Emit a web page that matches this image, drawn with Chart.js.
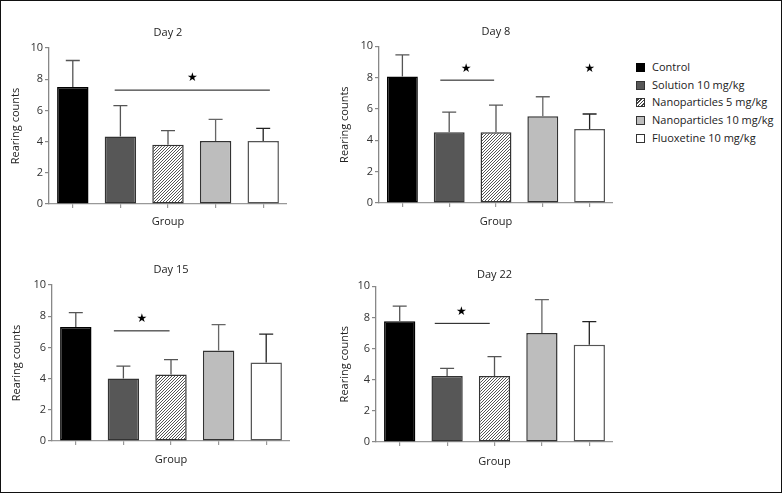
<!DOCTYPE html>
<html>
<head>
<meta charset="utf-8">
<script src="https://cdn.jsdelivr.net/npm/chart.js@4.4.1/dist/chart.umd.min.js"></script>
<style>
  body { margin: 0; background: #fff; }
  #page { position: relative; width: 783px; height: 494px; overflow: hidden; font-family: "Open Sans", sans-serif; }
  #frame { position: absolute; left: 0; top: 0; width: 780px; height: 491px; border: 1.5px solid #111; pointer-events: none; }
  .panel { position: absolute; }
  .legend { position: absolute; left: 636px; top: 61px; font-size: 11px; color: #222; }
  .legend div { height: 17.7px; line-height: 11px; white-space: nowrap; }
  .legend span.sw { display: inline-block; width: 7px; height: 7px; border: 1px solid #333; margin-right: 7px; vertical-align: -1px; }
</style>
</head>
<body>
<div id="page">
  <div class="panel" id="p0"><canvas id="c0"></canvas></div>
  <div class="panel" id="p1"><canvas id="c1"></canvas></div>
  <div class="panel" id="p2"><canvas id="c2"></canvas></div>
  <div class="panel" id="p3"><canvas id="c3"></canvas></div>
  <div class="legend" id="legend"></div>
  <div id="frame"></div>
</div>
<script>
// data
const groups = ['Control', 'Solution 10 mg/kg', 'Nanoparticles 5 mg/kg', 'Nanoparticles 10 mg/kg', 'Fluoxetine 10 mg/kg'];
const days = ['Day 2', 'Day 8', 'Day 15', 'Day 22'];

const day2Mean = [7.5, 4.33, 3.8, 4.04, 4.04];
const day2Sd = [1.7, 1.97, 0.9, 1.38, 0.81];
const day8Mean = [8.07, 4.51, 4.51, 5.53, 4.73];
const day8Sd = [1.38, 1.29, 1.74, 1.25, 0.95];
const day15Mean = [7.31, 4.0, 4.26, 5.8, 5.03];
const day15Sd = [0.92, 0.8, 0.96, 1.66, 1.82];
const day22Mean = [7.75, 4.24, 4.24, 7.0, 6.25];
const day22Sd = [0.98, 0.49, 1.24, 2.14, 1.48];

// significance bars: [from category, to category, y value]
const day2Sig = [[0.88, 4.14, 7.3]];
const day8Sig = [[0.81, 1.96, 7.84]];
const day15Sig = [[0.8, 1.97, 7.06]];
const day22Sig = [[0.74, 1.9, 7.62]];
// stars: [category, y value]
const day2Stars = [[2.51, 8.1]];
const day8Stars = [[1.36, 8.54], [4.0, 8.54]];
const day15Stars = [[1.39, 7.83]];
const day22Stars = [[1.3, 8.37]];

const yTicks = [0, 2, 4, 6, 8, 10];

const means = [day2Mean, day8Mean, day15Mean, day22Mean];
const sds = [day2Sd, day8Sd, day15Sd, day22Sd];
const sigs = [day2Sig, day8Sig, day15Sig, day22Sig];
const stars = [day2Stars, day8Stars, day15Stars, day22Stars];

// hatch pattern for the 5 mg/kg group (fine "/" stripes)
function hatch() {
  const c = document.createElement('canvas');
  c.width = 3; c.height = 3;
  const g = c.getContext('2d');
  g.fillStyle = '#fff';
  g.fillRect(0, 0, 3, 3);
  g.fillStyle = '#555';
  g.fillRect(0, 2, 1, 1);
  g.fillRect(1, 1, 1, 1);
  g.fillRect(2, 0, 1, 1);
  return g.createPattern(c, 'repeat');
}
const hatchFill = hatch();

const fills = ['#000', '#575757', hatchFill, '#bdbdbd', '#fff'];
const borders = ['#000', '#333', '#333', '#333', '#555'];
const errColors = ['#555', '#555', '#555', '#666', '#222'];

// panel geometry (page pixels)
const panels = [
  { axisX: 49, top: 48, bottom: 204, right: 287, titleY: 33, groupY: 222, yTitleX: 16, T: 0 },
  { axisX: 379, top: 46.3, bottom: 203.7, right: 613, titleY: 31.7, groupY: 222.7, yTitleX: 345, T: 0 },
  { axisX: 52, top: 285, bottom: 441.3, right: 290, titleY: 270, groupY: 460, yTitleX: 16.7, T: 240 },
  { axisX: 376, top: 286.3, bottom: 442, right: 613, titleY: 275, groupY: 461.7, yTitleX: 345, T: 240 }
];

const extras = {
  id: 'extras',
  afterDatasetsDraw(chart, args, opts) {
    const ctx = chart.ctx;
    const xs = chart.scales.x, ys = chart.scales.y;
    const step = xs.getPixelForValue(1) - xs.getPixelForValue(0);
    const catX = c => xs.getPixelForValue(0) + c * step;
    const meta = chart.getDatasetMeta(0);
    ctx.save();
    ctx.lineWidth = 1.3;
    meta.data.forEach((bar, i) => {
      const m = opts.mean[i], s = opts.sd[i];
      const y0 = ys.getPixelForValue(m), y1 = ys.getPixelForValue(m + s);
      ctx.strokeStyle = errColors[i];
      ctx.beginPath();
      ctx.moveTo(bar.x, y0); ctx.lineTo(bar.x, y1);
      ctx.moveTo(bar.x - 7, y1); ctx.lineTo(bar.x + 7, y1);
      ctx.stroke();
    });
    ctx.strokeStyle = '#111';
    ctx.lineWidth = 1;
    opts.sig.forEach(s => {
      const y = ys.getPixelForValue(s[2]);
      ctx.beginPath();
      ctx.moveTo(catX(s[0]), y); ctx.lineTo(catX(s[1]), y);
      ctx.stroke();
    });
    ctx.fillStyle = '#000';
    ctx.font = '12px "DejaVu Sans"';
    ctx.textAlign = 'center';
    ctx.textBaseline = 'middle';
    opts.stars.forEach(s => {
      ctx.fillText('\u2605', catX(s[0]), ys.getPixelForValue(s[1]));
    });
    ctx.restore();
  }
};

panels.forEach((p, k) => {
  const L = p.axisX - 50;
  const W = p.right - L;
  const H = p.bottom - p.T + 30;
  const box = document.getElementById('p' + k);
  box.style.left = L + 'px';
  box.style.top = p.T + 'px';
  box.style.width = W + 'px';
  box.style.height = H + 'px';
  const cv = document.getElementById('c' + k);
  cv.width = W; cv.height = H;
  const topSpace = p.top - p.T;
  const tPadTop = p.titleY - p.T - 6.6;
  const tPadBottom = topSpace - 13.2 - tPadTop;

  new Chart(cv, {
    type: 'bar',
    data: {
      labels: groups,
      datasets: [{
        data: means[k],
        backgroundColor: fills,
        borderColor: borders,
        borderWidth: 1.5,
        borderSkipped: false,
        categoryPercentage: 1,
        barPercentage: 0.66
      }]
    },
    options: {
      responsive: false,
      animation: false,
      devicePixelRatio: 1,
      layout: { padding: 0 },
      plugins: {
        legend: { display: false },
        tooltip: { enabled: false },
        title: {
          display: true,
          text: days[k],
          fullSize: false,
          color: '#222',
          font: { family: 'Open Sans', size: 11, weight: 'normal', lineHeight: 1.2 },
          padding: { top: tPadTop, bottom: tPadBottom }
        },
        extras: { mean: means[k], sd: sds[k], sig: sigs[k], stars: stars[k] }
      },
      scales: {
        x: {
          grid: { display: true, drawOnChartArea: false, drawTicks: true, tickLength: 4, offset: false, color: '#999', lineWidth: 1.2 },
          border: { display: true, color: '#999', width: 1.3 },
          ticks: { display: false },
          title: {
            display: true, text: 'Group', color: '#222',
            font: { family: 'Open Sans', size: 11, lineHeight: 1.2 },
            padding: { top: 0, bottom: p.bottom + 30 - 6.6 - p.groupY }
          },
          afterFit(s) { s.height = 30; }
        },
        y: {
          min: 0, max: 10,
          afterBuildTicks(s) { s.ticks = yTicks.map(v => ({ value: v })); },
          grid: { display: true, drawOnChartArea: false, drawTicks: true, tickLength: 4, color: '#888', lineWidth: 1.2 },
          border: { display: true, color: '#888', width: 1.3 },
          ticks: { color: '#333', padding: 2, font: { family: 'Open Sans', size: 11 } },
          title: {
            display: true, text: 'Rearing counts', color: '#222',
            font: { family: 'Open Sans', size: 11, lineHeight: 1.2 },
            padding: { top: p.yTitleX - L - 6.6, bottom: 0 }
          },
          afterFit(s) { s.width = 50; }
        }
      }
    },
    plugins: [extras]
  });
});

// legend
const lg = document.getElementById('legend');
const swatchCss = [
  'background:#000;border-color:#000',
  'background:#575757',
  'background:repeating-linear-gradient(-45deg,#fff 0 1.2px,#444 1.2px 2.4px)',
  'background:#bdbdbd',
  'background:#fff'
];
groups.forEach((g, i) => {
  const row = document.createElement('div');
  row.innerHTML = '<span class="sw" style="' + swatchCss[i] + '"></span>' + g;
  lg.appendChild(row);
});
</script>
</body>
</html>
